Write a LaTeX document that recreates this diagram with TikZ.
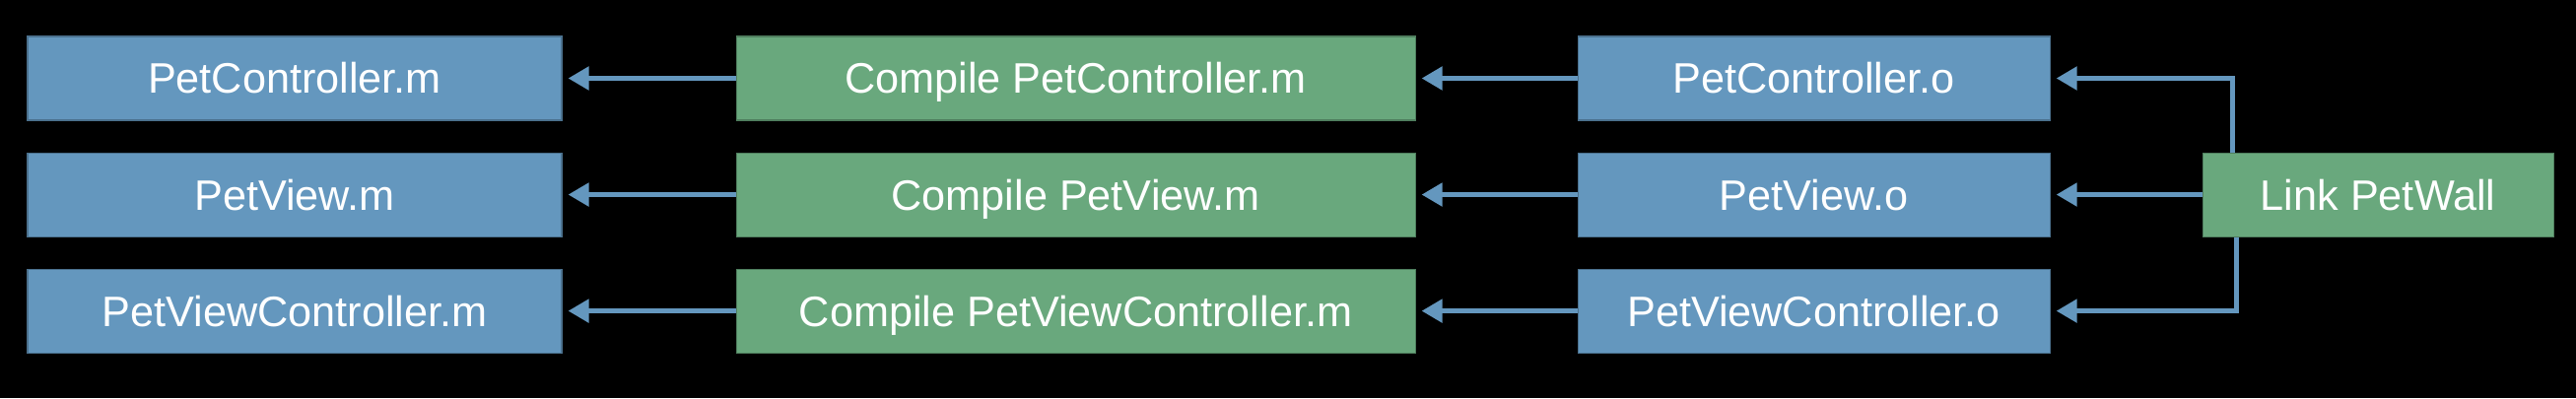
\documentclass[tikz,border=0pt]{standalone}
\usepackage{fontspec}
\setmainfont{Liberation Sans}
\usetikzlibrary{arrows.meta,positioning}
\definecolor{fileblue}{RGB}{100,151,190}
\definecolor{taskgreen}{RGB}{105,168,125}

\begin{document}
\begin{tikzpicture}[
  font=\fontsize{24.6}{28}\selectfont,
  file/.style={fill=fileblue, draw=fileblue!75!black, line width=0.6pt,
    text=white, minimum height=1.7cm, inner sep=0pt,
    text height=0.62cm, text depth=0pt},
  task/.style={file, fill=taskgreen, draw=taskgreen!75!black},
  dep/.style={-{Triangle[length=0.42cm,width=0.46cm]}, line width=0.1cm,
    draw=fileblue, shorten >=0.12cm}
]
  \fill[black] (0,0) rectangle (52.28,8.08);
  \useasboundingbox (0,0) rectangle (52.28,8.08);

  % sources
  \node[file, minimum width=10.84cm] (srcA) at (5.98,6.49) {PetController.m};
  \node[file, minimum width=10.84cm, below=0.64cm of srcA] (srcB) {PetView.m};
  \node[file, minimum width=10.84cm, below=0.64cm of srcB] (srcC) {PetViewController.m};

  % compile steps
  \node[task, minimum width=13.78cm, right=3.52cm of srcA] (compA) {Compile PetController.m};
  \node[task, minimum width=13.78cm, right=3.52cm of srcB] (compB) {Compile PetView.m};
  \node[task, minimum width=13.78cm, right=3.52cm of srcC] (compC) {Compile PetViewController.m};

  % objects
  \node[file, minimum width=9.58cm, right=3.28cm of compA] (objA) {PetController.o};
  \node[file, minimum width=9.58cm, right=3.28cm of compB] (objB) {PetView.o};
  \node[file, minimum width=9.58cm, right=3.28cm of compC] (objC) {PetViewController.o};

  % link
  \node[task, minimum width=7.12cm, right=3.08cm of objB] (link) {Link PetWall};

  \draw[dep] (compA) -- (srcA);
  \draw[dep] (compB) -- (srcB);
  \draw[dep] (compC) -- (srcC);
  \draw[dep] (objA) -- (compA);
  \draw[dep] (objB) -- (compB);
  \draw[dep] (objC) -- (compC);

  \draw[dep] ([xshift=0.62cm]link.north west) |- (objA);
  \draw[dep] (link) -- (objB);
  \draw[dep] ([xshift=0.7cm]link.south west) |- (objC);
\end{tikzpicture}
\end{document}
